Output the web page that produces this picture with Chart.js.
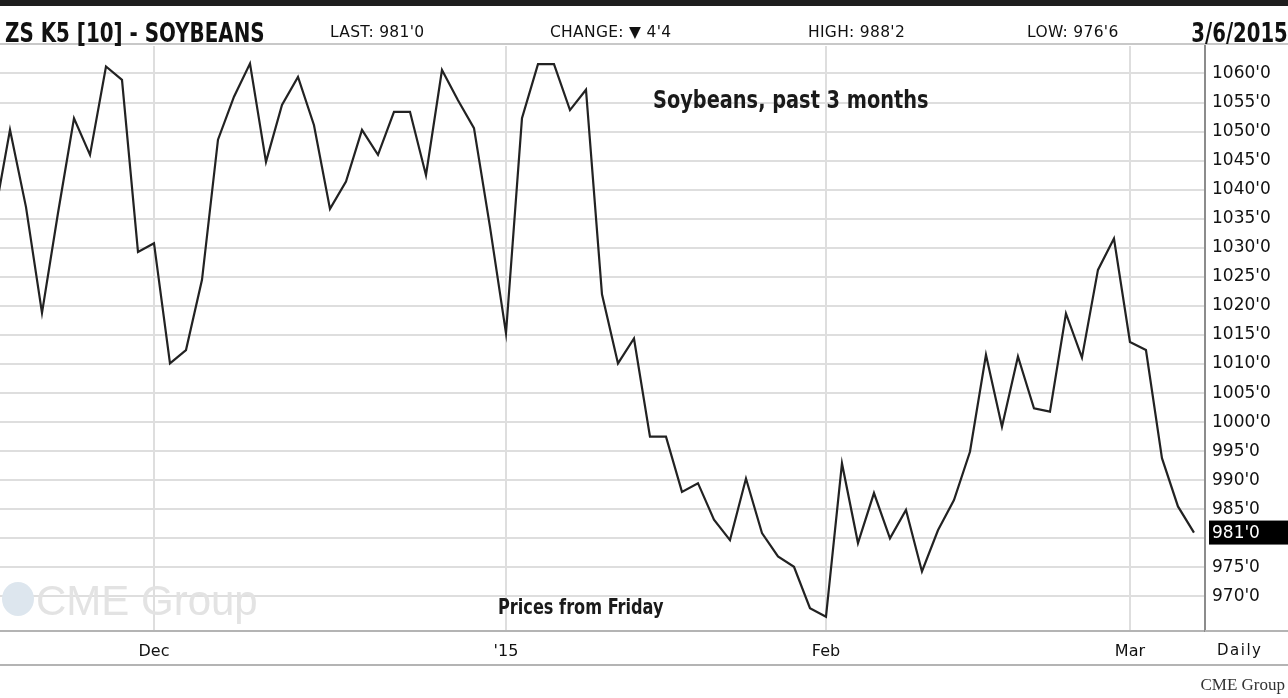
<!DOCTYPE html>
<html>
<head>
<meta charset="utf-8">
<script src="https://cdn.jsdelivr.net/npm/chart.js@4.4.1/dist/chart.umd.min.js"></script>
<style>
  html, body { margin: 0; padding: 0; background: #fff; }
  #wrap { position: relative; width: 1288px; height: 698px; overflow: hidden; }
  #chart { position: absolute; left: 0; top: 0; }
  .txt { position: absolute; white-space: nowrap; line-height: 1; color: #111; }
  .hdr { font-family: 'DejaVu Sans', sans-serif; font-size: 15.5px; top: 25px; letter-spacing: 0.3px; }
  .narrow { font-family: 'Liberation Sans Narrow', 'Arial Narrow', 'DejaVu Sans Condensed', sans-serif; font-weight: bold; transform-origin: left center; }
</style>
</head>
<body>
<div id="wrap">
  <canvas id="chart" width="1288" height="698"></canvas>
  <div class="txt narrow" style="left:5px; top:20px; font-size:26px; transform:scaleX(0.85);">ZS K5 [10] - SOYBEANS</div>
  <div class="txt hdr" style="left:330px;">LAST: 981'0</div>
  <div class="txt hdr" style="left:550px;">CHANGE: ▼ 4'4</div>
  <div class="txt hdr" style="left:808px;">HIGH: 988'2</div>
  <div class="txt hdr" style="left:1027px;">LOW: 976'6</div>
  <div class="txt narrow" style="right:0px; top:20px; font-size:26px; transform-origin:right center; transform:scaleX(0.84);">3/6/2015</div>
  <div class="txt narrow" style="left:653px; top:87px; font-size:25px; color:#1a1a1a; transform:scaleX(0.86);">Soybeans, past 3 months</div>
  <div class="txt narrow" style="left:498px; top:597px; font-size:21px; color:#1a1a1a; transform:scaleX(0.855);">Prices from Friday</div>
  <div class="txt" style="left:2px; top:582px; width:32px; height:34px; border-radius:50%; background:#dde6ee;"></div>
  <div class="txt" style="left:36px; top:580px; font-family:'Liberation Sans', Arial, sans-serif; font-size:42px; color:#e3e3e3;">CME Group</div>
  <div class="txt" style="left:1217px; top:643px; font-family:'DejaVu Sans', sans-serif; font-size:15px; letter-spacing:1.5px;">Daily</div>
  <div class="txt" style="right:3px; top:676px; font-family:'Liberation Serif', serif; font-size:17px; color:#333;">CME Group</div>
</div>
<script>
// trading days, Nov 14 2014 .. Mar 6 2015
const dates = [
  'Nov 14', 'Nov 17', 'Nov 18', 'Nov 19', 'Nov 20', 'Nov 21', 'Nov 24', 'Nov 25', 'Nov 26', 'Nov 28',
  'Dec 1', 'Dec 2', 'Dec 3', 'Dec 4', 'Dec 5', 'Dec 8', 'Dec 9', 'Dec 10', 'Dec 11', 'Dec 12',
  'Dec 15', 'Dec 16', 'Dec 17', 'Dec 18', 'Dec 19', 'Dec 22', 'Dec 23', 'Dec 24', 'Dec 26', 'Dec 29',
  'Dec 30', 'Dec 31',
  'Jan 2', 'Jan 5', 'Jan 6', 'Jan 7', 'Jan 8', 'Jan 9', 'Jan 12', 'Jan 13', 'Jan 14', 'Jan 15',
  'Jan 16', 'Jan 20', 'Jan 21', 'Jan 22', 'Jan 23', 'Jan 26', 'Jan 27', 'Jan 28', 'Jan 29', 'Jan 30',
  'Feb 2', 'Feb 3', 'Feb 4', 'Feb 5', 'Feb 6', 'Feb 9', 'Feb 10', 'Feb 11', 'Feb 12', 'Feb 13',
  'Feb 17', 'Feb 18', 'Feb 19', 'Feb 20', 'Feb 23', 'Feb 24', 'Feb 25', 'Feb 26', 'Feb 27',
  'Mar 2', 'Mar 3', 'Mar 4', 'Mar 5', 'Mar 6'
];

// settle prices, cents/bu
const prices = [
  1035, 1050.3, 1037, 1018.8, 1036, 1052.3, 1046, 1061.2, 1058.9, 1029.3,
  1030.8, 1010.1, 1012.4, 1024.5, 1048.6, 1056, 1061.7, 1044.8, 1054.6, 1059.4,
  1051.1, 1036.7, 1041.4, 1050.3, 1046, 1053.4, 1053.4, 1042.5, 1060.6, 1055.4,
  1050.6, 1033.6,
  1015.3, 1052.3, 1061.6, 1061.6, 1053.7, 1057.2, 1022, 1010.1, 1014.4, 997.5,
  997.5, 988, 989.5, 983.2, 979.7, 990.3, 980.9, 976.9, 975.1, 968,
  966.5, 992.9, 979.2, 987.8, 980, 984.9, 974.3, 981.4, 986.6, 994.9,
  1011.6, 999.2, 1011.3, 1002.4, 1001.8, 1018.7, 1011.1, 1026.2, 1031.6,
  1013.8, 1012.4, 993.8, 985.5, 981
];

const monthTickDates = ['Dec 1', 'Jan 2', 'Feb 2', 'Mar 2'];
const monthTickLabels = ['Dec', "'15", 'Feb', 'Mar'];

const yTicks = [970, 975, 980, 985, 990, 995, 1000, 1005, 1010, 1015, 1020, 1025, 1030, 1035, 1040, 1045, 1050, 1055, 1060];

const lastPrice = prices[prices.length - 1];
const fmt = v => Math.floor(v) + "'" + Math.round((v % 1) * 8);

const points = prices.map((p, i) => ({ x: i, y: p }));
const monthIdx = monthTickDates.map(d => dates.indexOf(d));

// frame lines + last price box
const framePlugin = {
  id: 'frame',
  afterDraw(chart) {
    const ctx = chart.ctx;
    const area = chart.chartArea;
    const y = chart.scales.y;
    ctx.save();
    ctx.fillStyle = '#1e1e1e';
    ctx.fillRect(0, 0, chart.width, 6);
    ctx.fillStyle = '#c8c8c8';
    ctx.fillRect(0, area.top - 3, chart.width, 2);
    ctx.fillStyle = '#b4b4b4';
    ctx.fillRect(area.right, area.bottom - 1, chart.width - area.right, 2);
    ctx.fillRect(0, 664, chart.width, 2);

    const py = y.getPixelForValue(lastPrice);
    ctx.fillStyle = '#000';
    ctx.fillRect(area.right + 4, py - 12, chart.width - area.right - 4, 24);
    ctx.fillStyle = '#fff';
    ctx.font = '17px "DejaVu Sans", sans-serif';
    ctx.textBaseline = 'middle';
    ctx.fillText(fmt(lastPrice), area.right + 7, py + 1);
    ctx.restore();
  }
};

new Chart(document.getElementById('chart'), {
  type: 'line',
  data: {
    datasets: [{
      data: points,
      borderColor: '#222',
      borderWidth: 2.2,
      pointRadius: 0,
      tension: 0,
      fill: false
    }]
  },
  options: {
    responsive: false,
    animation: false,
    devicePixelRatio: 1,
    layout: { padding: { top: 46, left: 0, right: 0, bottom: 0 } },
    plugins: {
      legend: { display: false },
      tooltip: { enabled: false }
    },
    scales: {
      x: {
        type: 'linear',
        min: 0.375,
        max: 75.69,
        afterBuildTicks: scale => {
          scale.ticks = monthIdx.map(v => ({ value: v }));
        },
        afterFit: scale => { scale.height = 67; },
        grid: { color: '#dedede', lineWidth: 2, drawTicks: false },
        border: { display: true, color: '#b4b4b4', width: 2 },
        ticks: {
          padding: 11,
          maxRotation: 0,
          autoSkip: false,
          color: '#111',
          font: { family: 'DejaVu Sans', size: 16 },
          callback: v => monthTickLabels[monthIdx.indexOf(v)] || ''
        }
      },
      y: {
        position: 'right',
        min: 964.06,
        max: 1064.73,
        afterBuildTicks: scale => {
          scale.ticks = yTicks.map(v => ({ value: v }));
        },
        afterFit: scale => { scale.width = 83; },
        grid: { color: '#dedede', lineWidth: 2, drawTicks: false },
        border: { display: true, color: '#8c8c8c', width: 2 },
        ticks: {
          padding: 7,
          color: '#111',
          font: { family: 'DejaVu Sans', size: 17 },
          callback: v => Math.abs(v - lastPrice) < 3 ? '' : v + "'0"
        }
      }
    }
  },
  plugins: [framePlugin]
});
</script>
</body>
</html>
